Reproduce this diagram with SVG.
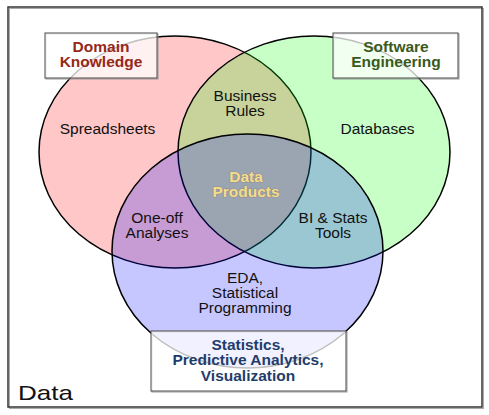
<svg xmlns="http://www.w3.org/2000/svg" width="489" height="415" viewBox="0 0 489 415">
  <style>
    text { font-family: "Liberation Sans", Arial, sans-serif; font-size: 14.5px; text-anchor: middle; fill: #111; }
    .title { font-weight: bold; }
    .dom { fill: #962818; }
    .sw { fill: #3a5a1c; }
    .st { fill: #1f3d6b; }
    .dp { font-weight: bold; fill: #f5db8c; stroke: #7a6a40; stroke-opacity: 0.35; stroke-width: 1.2; paint-order: stroke; }
    .venn { stroke: #000; stroke-width: 1.5; }
    .box { fill: #fff; fill-opacity: 0.75; stroke: #4a4a4a; stroke-width: 1; }
    .boxsh { fill: none; stroke: #999; stroke-width: 1; }
  </style>
  <rect x="0" y="0" width="489" height="415" fill="#fff"/>
  <g id="frame">
    <rect x="9.5" y="8.5" width="474" height="400" fill="none" stroke="#aaa" stroke-width="1"/>
    <rect x="8" y="7" width="474" height="400" fill="none" stroke="#333" stroke-width="1.5"/>
  </g>
  <g id="circles">
    <g id="domain-circle"><ellipse class="venn" cx="175" cy="152" rx="136" ry="116" fill="rgb(255,0,0)" fill-opacity="0.22"/></g>
    <g id="software-circle"><ellipse class="venn" cx="314" cy="152" rx="136" ry="116" fill="rgb(0,255,0)" fill-opacity="0.22"/></g>
    <g id="stats-circle"><ellipse class="venn" cx="247.5" cy="251" rx="135.5" ry="117" fill="rgb(0,0,255)" fill-opacity="0.22"/></g>
  </g>
  <g id="connectors"></g>
  <g id="region-labels">
    <g id="spreadsheets"><text transform="translate(107.5,134) scale(1.07,1)">Spreadsheets</text></g>
    <g id="databases"><text transform="translate(377.5,134) scale(1.07,1)">Databases</text></g>
    <g id="business-rules"><text transform="translate(245,101) scale(1.07,1)"><tspan x="0">Business</tspan><tspan x="0" dy="15">Rules</tspan></text></g>
    <g id="data-products"><text class="dp" transform="translate(246,182) scale(1.07,1)"><tspan x="0">Data</tspan><tspan x="0" dy="15">Products</tspan></text></g>
    <g id="one-off"><text transform="translate(157,223) scale(1.07,1)"><tspan x="0">One-off</tspan><tspan x="0" dy="15">Analyses</tspan></text></g>
    <g id="bi-stats"><text transform="translate(333,223) scale(1.07,1)"><tspan x="0">BI &amp; Stats</tspan><tspan x="0" dy="15">Tools</tspan></text></g>
    <g id="eda"><text transform="translate(245,283) scale(1.07,1)"><tspan x="0">EDA,</tspan><tspan x="0" dy="15">Statistical</tspan><tspan x="0" dy="15">Programming</tspan></text></g>
  </g>
  <g id="domain-knowledge">
    <rect class="boxsh" x="46" y="34" width="112" height="45"/>
    <rect class="box" x="45" y="33" width="112" height="45"/>
    <text class="title dom" transform="translate(101,52) scale(1.07,1)"><tspan x="0">Domain</tspan><tspan x="0" dy="15">Knowledge</tspan></text>
  </g>
  <g id="software-engineering">
    <rect class="boxsh" x="334" y="34" width="125" height="45"/>
    <rect class="box" x="333" y="33" width="125" height="45"/>
    <text class="title sw" transform="translate(396,52) scale(1.07,1)"><tspan x="0">Software</tspan><tspan x="0" dy="15">Engineering</tspan></text>
  </g>
  <g id="statistics">
    <rect class="boxsh" x="152" y="332" width="195" height="60"/>
    <rect class="box" x="151" y="331" width="195" height="60"/>
    <text class="title st" transform="translate(248,350) scale(1.07,1)"><tspan x="0">Statistics,</tspan><tspan x="0" dy="15.5">Predictive Analytics,</tspan><tspan x="0" dy="15.5">Visualization</tspan></text>
  </g>
  <g id="data-label">
    <text x="18" y="400" style="font-size:21px;text-anchor:start" textLength="55" lengthAdjust="spacingAndGlyphs">Data</text>
  </g>
</svg>
